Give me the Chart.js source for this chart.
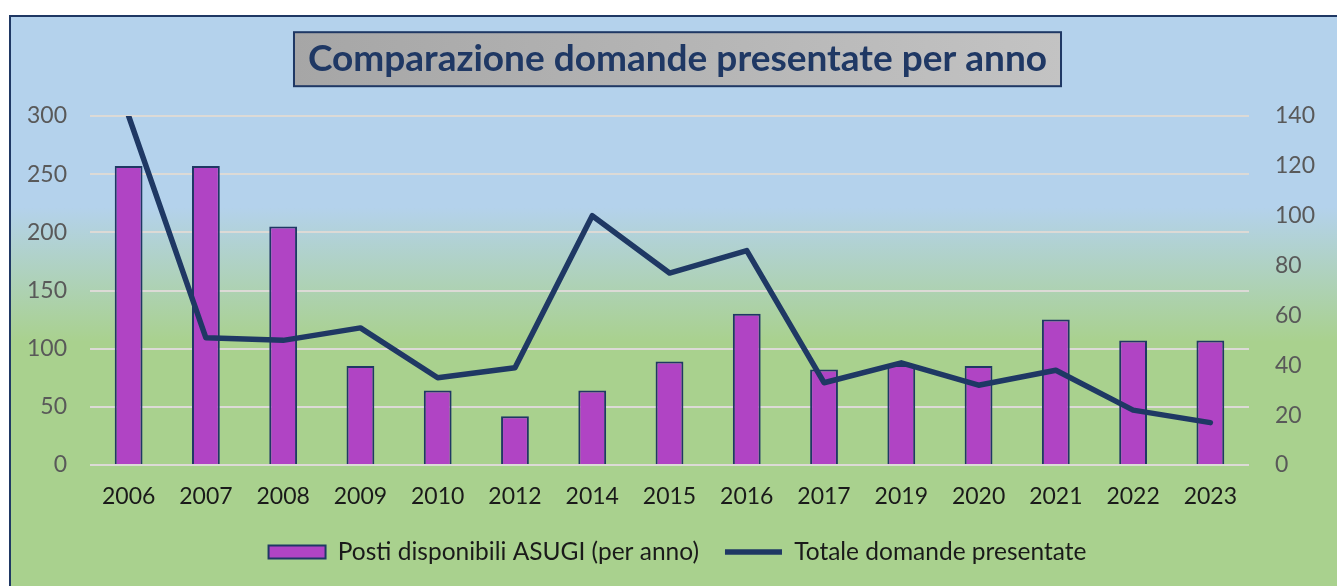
<!DOCTYPE html>
<html>
<head>
<meta charset="utf-8">
<script src="https://cdn.jsdelivr.net/npm/chart.js@4"></script>
<style>
  html, body { margin: 0; padding: 0; background: #fff; overflow: hidden; }
  #frame {
    position: absolute; left: 9px; top: 15px; width: 1340px; height: 590px;
    border: 2px solid #1f3864;
    background: linear-gradient(to bottom, #b4d2ec 0px, #b4d2ec 190px, #a9d18e 325px, #a9d18e 100%);
  }
  #wrap { position: absolute; left: 0; top: 0; width: 1337px; height: 586px; }
</style>
</head>
<body>
<div id="frame"></div>
<div id="wrap"><canvas id="chart" width="1337" height="586"></canvas></div>
<script>
// categories (years) and the two series
const years = ['2006', '2007', '2008', '2009', '2010', '2012', '2014', '2015', '2016', '2017', '2019', '2020', '2021', '2022', '2023'];
const postiDisponibili = [257, 257, 205, 85, 64, 42, 64, 89, 130, 82, 86, 85, 125, 107, 107];
const domandePresentate = [140, 51, 50, 55, 35, 39, 100, 77, 86, 33, 41, 32, 38, 22, 17];

const navy = '#1f3864';
const FONT = 'Lato, "Liberation Sans", sans-serif';

// grey box with dark border behind the title
const titleBox = {
  id: 'titleBox',
  beforeDraw(chart) {
    const t = chart.titleBlock;
    const opts = chart.options.plugins.title;
    const ctx = chart.ctx;
    ctx.save();
    ctx.font = 'bold ' + opts.font.size + 'px ' + FONT;
    const w = ctx.measureText(opts.text).width + 28;
    const cx = (t.left + t.right) / 2;
    const cy = t.top + opts.padding.top + opts.font.size * 1.2 / 2;
    const h = 54;
    const g = ctx.createLinearGradient(cx - w / 2, 0, cx + w / 2, 0);
    g.addColorStop(0, '#a6a6a6');
    g.addColorStop(1, '#c3c3c3');
    ctx.fillStyle = g;
    ctx.fillRect(cx - w / 2, cy - h / 2, w, h);
    ctx.lineWidth = 2;
    ctx.strokeStyle = navy;
    ctx.strokeRect(cx - w / 2, cy - h / 2, w, h);
    ctx.restore();
  }
};

const ctx = document.getElementById('chart').getContext('2d');

new Chart(ctx, {
  data: {
    labels: years,
    datasets: [
      {
        type: 'bar',
        label: 'Posti disponibili ASUGI (per anno)',
        data: postiDisponibili,
        backgroundColor: '#b044c4',
        borderColor: navy,
        borderWidth: 2,
        barPercentage: 0.36,
        categoryPercentage: 1,
        yAxisID: 'y',
        order: 1,
      },
      {
        type: 'line',
        label: 'Totale domande presentate',
        data: domandePresentate,
        borderColor: navy,
        backgroundColor: navy,
        borderWidth: 5.5,
        borderCapStyle: 'round',
        borderJoinStyle: 'round',
        pointRadius: 0,
        tension: 0,
        yAxisID: 'y1',
        order: 0,
      }
    ]
  },
  options: {
    responsive: false,
    animation: false,
    layout: { padding: { left: 18, right: 0, top: 0, bottom: 11.75 } },
    scales: {
      x: {
        grid: { display: false },
        border: { display: false },
        ticks: { color: '#1a1a1a', padding: 10, font: { family: FONT, size: 23 } },
        afterFit: (scale) => { scale.height = 48.75; }
      },
      y: {
        position: 'left',
        min: 0,
        max: 300,
        border: { display: false },
        grid: { color: '#dcdad6', lineWidth: 2, drawTicks: false },
        ticks: { stepSize: 50, color: '#595959', padding: 23, font: { family: FONT, size: 23 } },
        afterFit: (scale) => { scale.width = 72; }
      },
      y1: {
        position: 'right',
        min: 0,
        max: 140,
        border: { display: false },
        grid: { display: false },
        ticks: { stepSize: 20, color: '#595959', padding: 18, font: { family: FONT, size: 23 } },
        afterFit: (scale) => { scale.width = 88; }
      }
    },
    plugins: {
      title: {
        display: true,
        text: 'Comparazione domande presentate per anno',
        color: navy,
        font: { family: FONT, size: 37, weight: 'bold' },
        padding: { top: 37, bottom: 34.6 }
      },
      legend: {
        position: 'bottom',
        labels: {
          color: '#1a1a1a',
          font: { family: FONT, size: 24.5 },
          usePointStyle: true,
          pointStyleWidth: 57,
          boxHeight: 13,
          padding: 26,
          sort: (a, b) => a.datasetIndex - b.datasetIndex,
          generateLabels: function (chart) {
            const items = Chart.defaults.plugins.legend.labels.generateLabels(chart);
            items.forEach((it) => {
              it.pointStyle = it.datasetIndex === 0 ? 'rect' : 'line';
            });
            return items;
          }
        }
      },
      tooltip: { enabled: false }
    }
  },
  plugins: [titleBox]
});
</script>
</body>
</html>
